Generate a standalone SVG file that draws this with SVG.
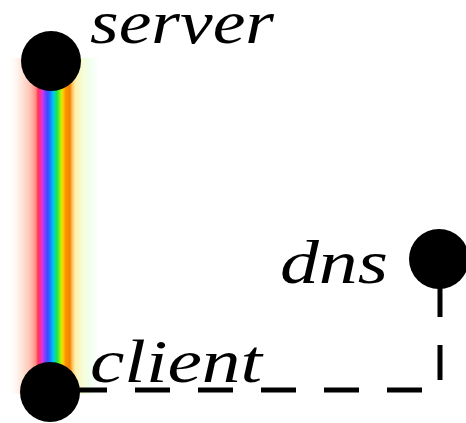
<svg xmlns="http://www.w3.org/2000/svg" width="466" height="423" viewBox="0 0 466 423">
  <defs>
    <!-- spectrum across the server-client link, with a soft glow on both sides -->
    <linearGradient id="spectrum" gradientUnits="userSpaceOnUse" x1="8" y1="0" x2="104" y2="0">
      <stop offset="0" stop-color="#ffffff" stop-opacity="0"/>
      <stop offset="0.13" stop-color="#ffe8de"/>
      <stop offset="0.23" stop-color="#ffc4b4"/>
      <stop offset="0.29" stop-color="#ff8c84"/>
      <stop offset="0.31" stop-color="#ff3a54"/>
      <stop offset="0.335" stop-color="#ff2a8c"/>
      <stop offset="0.355" stop-color="#e034e4"/>
      <stop offset="0.385" stop-color="#8040ff"/>
      <stop offset="0.415" stop-color="#3450ff"/>
      <stop offset="0.445" stop-color="#1488ff"/>
      <stop offset="0.47" stop-color="#00c4ff"/>
      <stop offset="0.49" stop-color="#00e0a4"/>
      <stop offset="0.51" stop-color="#22e244"/>
      <stop offset="0.54" stop-color="#84f022"/>
      <stop offset="0.56" stop-color="#e0ec00"/>
      <stop offset="0.58" stop-color="#ffc000"/>
      <stop offset="0.60" stop-color="#ff9400"/>
      <stop offset="0.645" stop-color="#f08400"/>
      <stop offset="0.67" stop-color="#ffc464"/>
      <stop offset="0.70" stop-color="#fff0a8"/>
      <stop offset="0.77" stop-color="#f6fcd4"/>
      <stop offset="0.86" stop-color="#f0fff0"/>
      <stop offset="1" stop-color="#ffffff" stop-opacity="0"/>
    </linearGradient>
  </defs>
  <style>
    .node { fill: #000000; }
    .label { font-family: "Liberation Serif", "Times New Roman", serif; font-style: italic; font-size: 62px; fill: #000000; }
    .link { fill: none; stroke: #000000; stroke-width: 5; stroke-dasharray: 35 28; stroke-dashoffset: 41; }
  </style>
  <rect width="466" height="423" fill="#ffffff"/>

  <g id="connectors">
    <!-- server to client: spectrum band -->
    <rect x="8" y="58" width="96" height="336" fill="url(#spectrum)"/>
    <!-- client to dns: dashed elbow -->
    <path class="link" d="M50,390 H440 V259"/>
  </g>

  <g id="server">
    <circle class="node" cx="51" cy="61" r="30"/>
    <text class="label" x="90" y="43" textLength="184" lengthAdjust="spacingAndGlyphs">server</text>
  </g>

  <g id="client">
    <circle class="node" cx="50" cy="392" r="30"/>
    <text class="label" x="90" y="382" textLength="172" lengthAdjust="spacingAndGlyphs">client</text>
  </g>

  <g id="dns">
    <circle class="node" cx="439" cy="259" r="30"/>
    <text class="label" x="280" y="283" textLength="108" lengthAdjust="spacingAndGlyphs">dns</text>
  </g>
</svg>
